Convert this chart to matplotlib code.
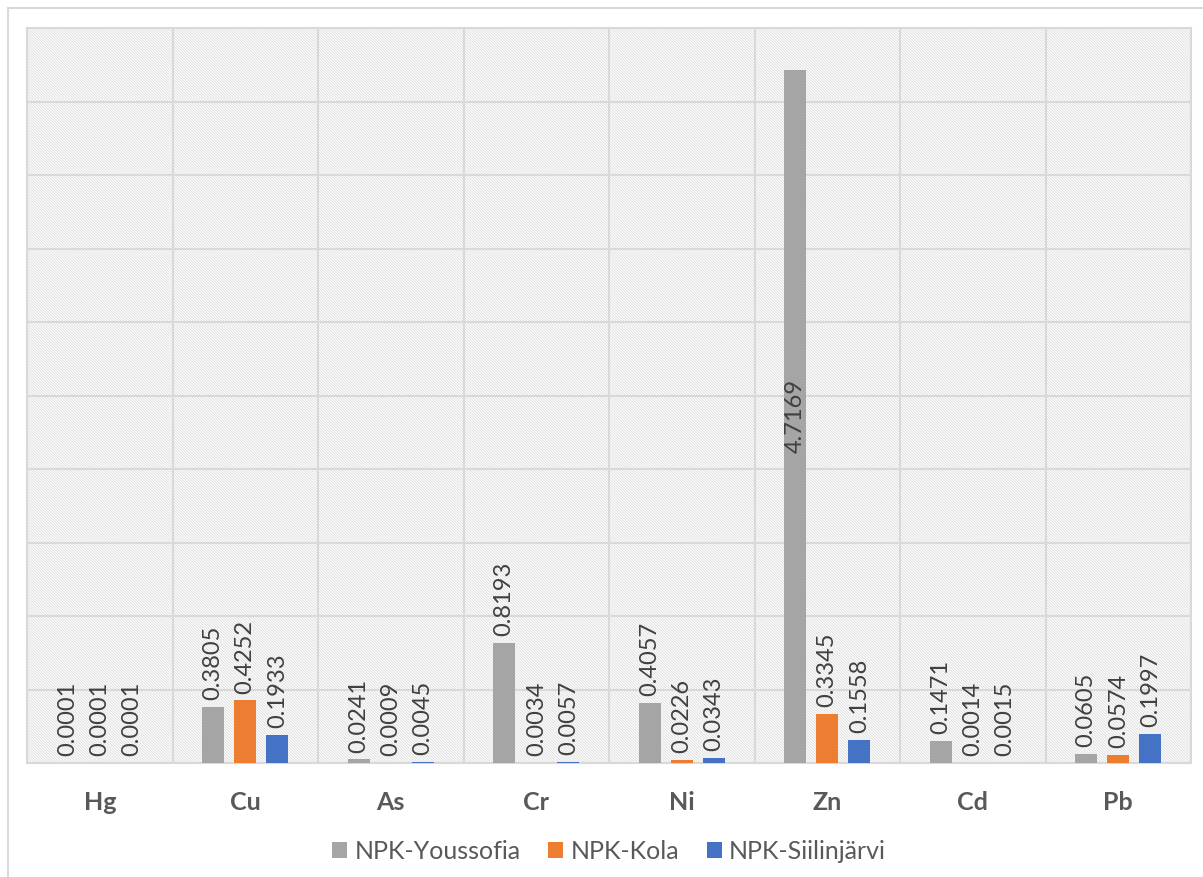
import numpy as np
import matplotlib.pyplot as plt
from matplotlib.patches import Rectangle
from matplotlib.lines import Line2D

plt.rcParams['font.family'] = ['Lato', 'DejaVu Sans']
plt.rcParams['hatch.color'] = '#dcdcdc'
plt.rcParams['hatch.linewidth'] = 0.6

elements = ["Hg", "Cu", "As", "Cr", "Ni", "Zn", "Cd", "Pb"]
series_names = ["NPK-Youssofia", "NPK-Kola", "NPK-Siilinjärvi"]
youssofia = [0.0001, 0.3805, 0.0241, 0.8193, 0.4057, 4.7169, 0.1471, 0.0605]
kola = [0.0001, 0.4252, 0.0009, 0.0034, 0.0226, 0.3345, 0.0014, 0.0574]
siilinjarvi = [0.0001, 0.1933, 0.0045, 0.0057, 0.0343, 0.1558, 0.0015, 0.1997]
colors = ["#a5a5a5", "#ed7d31", "#4472c4"]

fig = plt.figure(figsize=(12.03, 8.77), dpi=100)
ax = fig.add_axes([27 / 1203, 1 - 763 / 877, (1191 - 27) / 1203, (763 - 28) / 877])

# hatched background of the plot area
ax.add_patch(Rectangle((0, 0), 1, 1, transform=ax.transAxes, facecolor='white',
                       edgecolor='#dcdcdc', hatch='\\' * 12, lw=0, zorder=0))

x = np.arange(len(elements))
step = 0.22
width = 0.152
for i, (vals, name, c) in enumerate(zip([youssofia, kola, siilinjarvi], series_names, colors)):
    pos = x + (i - 1) * step
    ax.bar(pos, vals, width, color=c, label=name, zorder=3)
    for p, v in zip(pos, vals):
        txt = f"{v:.4f}"
        if v > 4:
            ax.text(p, v / 2, txt, rotation=90, ha='center', va='center',
                    fontsize=17, color='#404040', zorder=4)
        else:
            ax.annotate(txt, (p, v), xytext=(0, 5), textcoords='offset points',
                        rotation=90, ha='center', va='bottom', fontsize=17,
                        color='#404040', zorder=4)

ax.set_xlim(-0.5, len(elements) - 0.5)
ax.set_ylim(0, 5)
ax.set_yticks(np.arange(0, 5.01, 0.5))
ax.set_yticklabels([])
ax.set_xticks(np.arange(-0.5, len(elements), 1), minor=False)
ax.set_xticklabels([])
ax.set_xticks(x, minor=True)
ax.set_xticklabels(elements, minor=True, fontsize=18, fontweight='bold', color='#595959')
ax.tick_params(axis='both', which='both', length=0)
ax.tick_params(axis='x', which='minor', pad=20)
ax.grid(True, which='major', color='#d9d9d9', lw=1.5, zorder=1)
for s in ax.spines.values():
    s.set_color('#d9d9d9')
    s.set_linewidth(1.5)

ax.legend(loc='center', bbox_to_anchor=(0.5, -0.12), ncol=3, frameon=False,
          fontsize=18, labelcolor='#595959', handlelength=0.6, handleheight=0.6,
          handletextpad=0.3, columnspacing=1.1)

# outer chart border (top and left only visible)
fig.add_artist(Line2D([8 / 1203, 8 / 1203], [0, 1 - 8 / 877], color='#d9d9d9', lw=1.5))
fig.add_artist(Line2D([8 / 1203, 1], [1 - 8 / 877, 1 - 8 / 877], color='#d9d9d9', lw=1.5))

fig.savefig("out.png", dpi=100)
